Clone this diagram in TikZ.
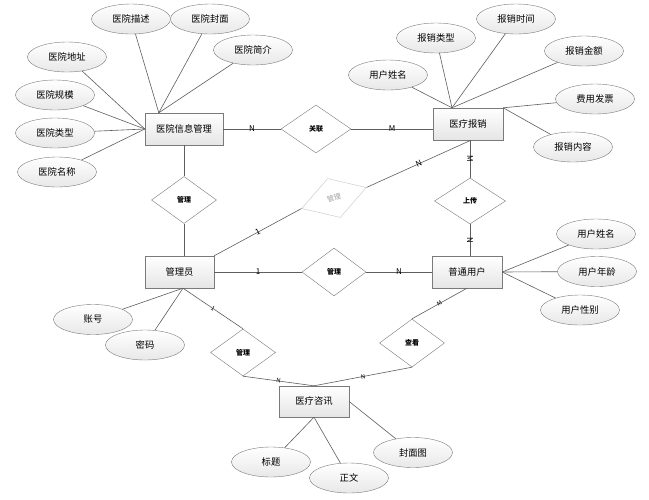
\documentclass[tikz,border=0pt]{standalone}
\usepackage{fontspec}
\setmainfont{Noto Sans CJK SC}
\usetikzlibrary{shapes.geometric,shadows,calc}
\definecolor{bd}{HTML}{7A7A7A}
\definecolor{ln}{HTML}{5E5E5E}
\begin{document}
\begin{tikzpicture}[x=1pt,y=-1pt,
  ent/.style={rectangle, draw=bd, top color=white, bottom color=gray!20, minimum height=32pt, inner sep=0pt,
    font=\fontsize{9.3}{11}\selectfont,
    drop shadow={shadow xshift=1.3pt, shadow yshift=-1.3pt, fill=black, opacity=0.25}},
  attr/.style={ellipse, draw=bd, top color=white, bottom color=gray!18, minimum width=79pt, minimum height=30pt, inner sep=0pt,
    font=\fontsize{9.3}{11}\selectfont},
  rel/.style={diamond, draw=bd, fill=white, inner sep=0pt, font=\fontsize{7}{8}\selectfont\bfseries},
  lab/.style={font=\fontsize{8}{9}\selectfont, inner sep=0.5pt},
  slab/.style={font=\fontsize{6}{7}\selectfont, inner sep=0.5pt},
  conn/.style={draw=ln, line width=0.6pt}]
\useasboundingbox (0,0) rectangle (649,499);
\fill[white] (0,0) rectangle (649,499);

% entities
\node[ent, minimum width=78pt] (hosp) at (184,129) {医院信息管理};
\node[ent, minimum width=70pt] (reimb) at (468,124) {医疗报销};
\node[ent, minimum width=69pt] (admin) at (179.5,272) {管理员};
\node[ent, minimum width=70pt] (user) at (467,272) {普通用户};
\node[ent, minimum width=70pt, minimum height=31pt] (cons) at (314,401.5) {医疗咨讯};

% relationships
\node[rel, minimum width=70pt, minimum height=48pt] (rA) at (316,129) {关联};
\node[rel, minimum width=65pt, minimum height=47pt] (rH) at (184,200) {管理};
\node[rel, draw=gray!45, text=gray!75, font=\fontsize{7}{8}\selectfont, minimum width=68pt, minimum height=41pt, rotate=18] (rT) at (334,198) {管理};
\node[rel, minimum width=71pt, minimum height=46pt] (rU) at (470,201) {上传};
\node[rel, minimum width=64pt, minimum height=48pt] (rM) at (334,272) {管理};
\node[rel, minimum width=65pt, minimum height=47pt] (rL) at (243,352.5) {管理};
\node[rel, minimum width=65pt, minimum height=48pt] (rV) at (412,343) {查看};

% relationship connectors
\draw[conn] (hosp.east) -- node[lab]{N} (rA.west);
\draw[conn] (rA.east) -- node[lab]{M} (rA.east -| reimb.west);
\draw[conn] (hosp.south) -- (rH.north);
\draw[conn] (rH.south) -- (rH.south |- admin.north);
\draw[conn] (rU.north |- reimb.south) -- node[lab, rotate=-90]{M} (rU.north);
\draw[conn] (rU.south) -- node[lab, rotate=-90]{N} (rU.south |- user.north);
\draw[conn] (admin.east) -- node[lab]{1} (rM.west);
\draw[conn] (rM.east) -- node[lab]{N} (user.west);
\coordinate (adminNE) at (admin.north east);
\coordinate (reimbB) at ($(reimb.south)+(3,0)$);
\draw[conn] (adminNE) -- node[lab, sloped]{1} (rT.west);
\draw[conn] (rT.east) -- node[lab, sloped]{N} (reimbB);
\coordinate (adminB) at ($(admin.south)+(3.5,0)$);
\draw[conn] (adminB) -- node[slab, sloped]{1} (rL.north);
\draw[conn] (rL.south) -- node[slab, sloped]{N} (cons.north);
\draw[conn] (user.south) -- node[slab, sloped]{M} (rV.north);
\draw[conn] (rV.south) -- node[slab, sloped]{N} (cons.north);

% hospital attributes
\coordinate (hospT) at ($(hosp.north west)+(14,0)$);
\node[attr] (h1) at (131,19) {医院描述};
\node[attr] (h2) at (210,19) {医院封面};
\node[attr] (h3) at (67,57) {医院地址};
\node[attr] (h4) at (253,50) {医院简介};
\node[attr] (h5) at (55,95) {医院规模};
\node[attr] (h6) at (55,133) {医院类型};
\node[attr] (h7) at (57,172) {医院名称};
\draw[conn] (h1) -- (hospT);
\draw[conn] (h2) -- (hospT);
\draw[conn] (h4) -- (hospT);
\draw[conn] (h3) -- (hosp.west);
\draw[conn] (h5) -- (hosp.west);
\draw[conn] (h6) -- (hosp.west);
\draw[conn] (h7) -- (hosp.west);

% reimbursement attributes
\coordinate (reimbT) at ($(reimb.north)+(-16,0)$);
\node[attr] (b1) at (436,38) {报销类型};
\node[attr] (b2) at (516,19) {报销时间};
\node[attr] (b3) at (584,51) {报销金额};
\node[attr] (b4) at (388,75) {用户姓名};
\node[attr] (b5) at (595,99) {费用发票};
\node[attr] (b6) at (573,147) {报销内容};
\draw[conn] (b1) -- (reimbT);
\draw[conn] (b2) -- (reimbT);
\draw[conn] (b3) -- (reimbT);
\draw[conn] (b4) -- (reimbT);
\draw[conn] (b5) -- (reimb.north east);
\draw[conn] (b6) -- (reimb.north east);

% user attributes
\node[attr] (u1) at (596,234) {用户姓名};
\node[attr] (u2) at (597,271.5) {用户年龄};
\node[attr] (u3) at (580,310) {用户性别};
\draw[conn] (u1) -- (user.east);
\draw[conn] (u2) -- (user.east);
\draw[conn] (u3) -- (user.east);

% admin attributes
\node[attr] (a1) at (93,319.5) {账号};
\node[attr] (a2) at (145,345) {密码};
\draw[conn] (a1) -- (adminB);
\draw[conn] (a2) -- (adminB);

% consultation attributes
\node[attr] (c1) at (271,462) {标题};
\node[attr] (c2) at (349,478) {正文};
\node[attr] (c3) at (413,452.5) {封面图};
\draw[conn] (c1) -- (cons.south);
\draw[conn] (c2) -- (cons.south);
\draw[conn] (c3) -- (cons.east);
\end{tikzpicture}
\end{document}
